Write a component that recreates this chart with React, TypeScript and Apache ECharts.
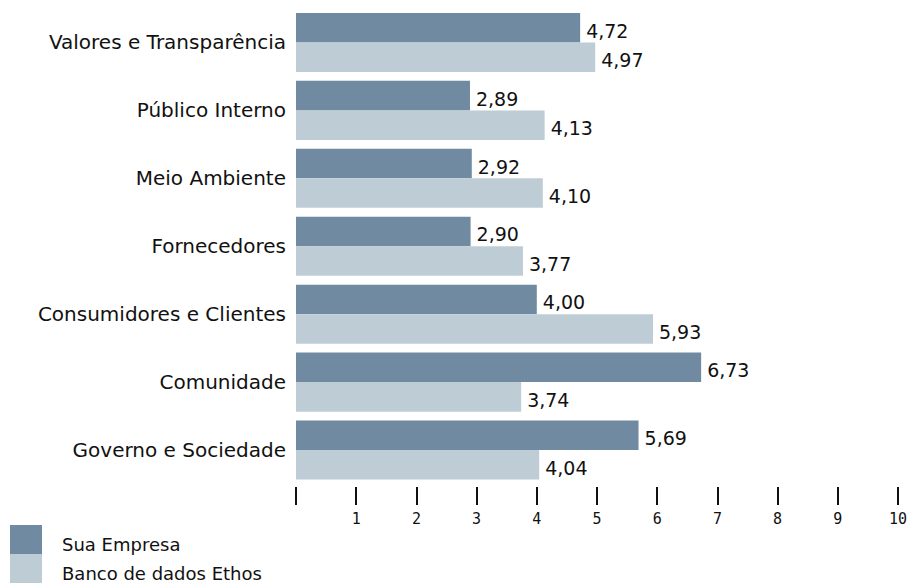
import React, { useEffect, useRef } from "react";
import * as echarts from "echarts";

const categories = [
  "Valores e Transparência",
  "Público Interno",
  "Meio Ambiente",
  "Fornecedores",
  "Consumidores e Clientes",
  "Comunidade",
  "Governo e Sociedade",
];
const seriesNames = ["Sua Empresa", "Banco de dados Ethos"];
const suaEmpresa = [4.72, 2.89, 2.92, 2.9, 4.0, 6.73, 5.69];
const bancoEthos = [4.97, 4.13, 4.1, 3.77, 5.93, 3.74, 4.04];
const xTicks = { min: 0, max: 10, interval: 1 };

const FONT = "'DejaVu Sans', Verdana, sans-serif";
const COLORS = ["#6F8AA1", "#BECCD6"];

export default function App() {
  const ref = useRef<HTMLDivElement>(null);
  useEffect(() => {
    if (!ref.current) return;
    const chart = echarts.init(ref.current, null, { renderer: "svg" });
    const label = {
      show: true,
      position: "right",
      distance: 6,
      offset: [0, 3],
      fontFamily: FONT,
      fontSize: 19,
      color: "#111",
      formatter: (p: any) => Number(p.value).toFixed(2).replace(".", ","),
    };
    chart.setOption({
      animation: false,
      textStyle: { fontFamily: FONT },
      grid: { left: 296, right: 13, top: 8.5, bottom: 99, containLabel: false },
      legend: {
        orient: "vertical",
        left: 10,
        top: 525,
        itemWidth: 32,
        itemHeight: 29,
        itemGap: 0,
        padding: 0,
        icon: "rect",
        selectedMode: false,
        data: seriesNames,
        formatter: (name: string) => `{t|${name}}`,
        textStyle: {
          fontFamily: FONT,
          fontSize: 18,
          color: "#111",
          padding: [0, 0, 0, 15],
          rich: {
            t: {
              fontFamily: FONT,
              fontSize: 18,
              color: "#111",
              lineHeight: 19,
              padding: [10, 0, 0, 0],
            },
          },
        },
      },
      xAxis: {
        type: "value",
        min: xTicks.min,
        max: xTicks.max,
        interval: xTicks.interval,
        offset: 3,
        axisLine: { show: false },
        splitLine: { show: false },
        axisTick: { show: true, length: 18, lineStyle: { color: "#111", width: 2 } },
        axisLabel: {
          margin: 24,
          fontFamily: "'DejaVu Sans Mono', monospace",
          fontSize: 15,
          color: "#111",
          formatter: (v: number) => (v === 0 ? "" : String(v)),
        },
      },
      yAxis: {
        type: "category",
        inverse: true,
        data: categories,
        axisLine: { show: false },
        axisTick: { show: false },
        axisLabel: { fontFamily: FONT, fontSize: 20, color: "#111", margin: 10 },
      },
      series: [
        {
          name: seriesNames[0],
          type: "bar",
          data: suaEmpresa,
          itemStyle: { color: COLORS[0] },
          barGap: "0%",
          barCategoryGap: "13%",
          label,
        },
        {
          name: seriesNames[1],
          type: "bar",
          data: bancoEthos,
          itemStyle: { color: COLORS[1] },
          barGap: "0%",
          barCategoryGap: "13%",
          label,
        },
      ],
    });
    return () => chart.dispose();
  }, []);
  return (
    <div
      ref={ref}
      style={{ position: "fixed", left: 0, top: 0, width: 911, height: 583, background: "#fff" }}
    />
  );
}
